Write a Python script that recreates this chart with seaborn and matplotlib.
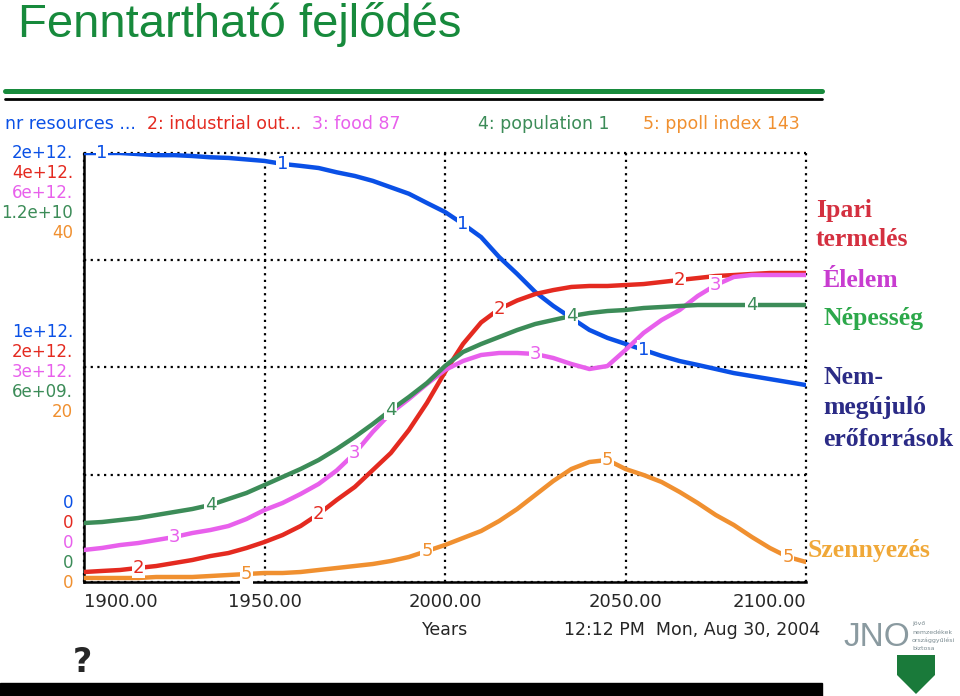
import numpy as np
import pandas as pd
import seaborn as sns
import matplotlib.pyplot as plt
from matplotlib.patches import Polygon

# years sampled every 5 years
years = list(range(1900, 2101, 5))

# 1: nr resources (units 1e12, scale max 2e12)
resources = [2.0, 2.0, 2.0, 1.995, 1.99, 1.99, 1.986, 1.98, 1.977, 1.97,
             1.963, 1.949, 1.94, 1.93, 1.91, 1.893, 1.87, 1.84, 1.81, 1.767,
             1.725, 1.669, 1.608, 1.515, 1.436, 1.352, 1.287, 1.231, 1.175, 1.138,
             1.11, 1.082, 1.054, 1.03, 1.012, 0.993, 0.974, 0.96, 0.946, 0.932, 0.918]
# 2: industrial output (units 1e12, scale max 4e12)
industrial = [0.093, 0.103, 0.112, 0.131, 0.149, 0.177, 0.205, 0.242, 0.27, 0.317,
              0.373, 0.438, 0.522, 0.634, 0.765, 0.886, 1.044, 1.203, 1.417, 1.67,
              1.958, 2.22, 2.42, 2.545, 2.625, 2.685, 2.722, 2.751, 2.76, 2.76,
              2.769, 2.778, 2.797, 2.816, 2.834, 2.853, 2.862, 2.872, 2.881, 2.881, 2.881]
# 3: food (units 1e12, scale max 6e12)
food = [0.448, 0.476, 0.517, 0.545, 0.587, 0.629, 0.685, 0.727, 0.783, 0.881,
        1.007, 1.105, 1.231, 1.371, 1.56, 1.8, 2.1, 2.364, 2.56, 2.77,
        2.965, 3.091, 3.175, 3.203, 3.203, 3.189, 3.133, 3.049, 2.979, 3.021,
        3.245, 3.483, 3.664, 3.804, 4.0, 4.154, 4.266, 4.294, 4.294, 4.294, 4.294]
# 4: population (units 1e9, scale max 1.2e10)
population = [1.65, 1.678, 1.734, 1.79, 1.874, 1.958, 2.042, 2.154, 2.322, 2.49,
              2.713, 2.937, 3.161, 3.413, 3.72, 4.056, 4.42, 4.811, 5.175, 5.566,
              6.042, 6.434, 6.657, 6.853, 7.049, 7.217, 7.329, 7.441, 7.524, 7.58,
              7.608, 7.664, 7.692, 7.72, 7.748, 7.748, 7.748, 7.748, 7.748, 7.748, 7.748]
# 5: persistent pollution index (scale max 40)
pollution = [0.373, 0.373, 0.373, 0.373, 0.466, 0.466, 0.466, 0.559, 0.653, 0.746,
             0.839, 0.839, 0.932, 1.119, 1.305, 1.492, 1.678, 1.958, 2.331, 2.89,
             3.45, 4.103, 4.755, 5.688, 6.807, 8.112, 9.417, 10.536, 11.189, 11.375,
             10.536, 9.977, 9.324, 8.392, 7.366, 6.247, 5.315, 4.196, 3.17, 2.331, 1.865]

series_names = ["1", "2", "3", "4", "5"]
series_vals = [resources, industrial, food, population, pollution]
scale_max = [2.0, 4.0, 6.0, 12.0, 40.0]
colors = ["#0a50e6", "#e42a20", "#e860ec", "#3c8c58", "#f09030"]

top_labels = ["2e+12.", "4e+12.", "6e+12.", "1.2e+10", "40"]
mid_labels = ["1e+12.", "2e+12.", "3e+12.", "6e+09.", "20"]
bot_labels = ["0", "0", "0", "0", "0"]
xticks = [1900, 1950, 2000, 2050, 2100]

header = [("nr resources ...", 5), ("2: industrial out...", 147), ("3: food 87", 312),
          ("4: population 1", 478), ("5: ppoll index 143", 643)]

rows = []
for name, vals, m in zip(series_names, series_vals, scale_max):
    for yr, v in zip(years, vals):
        rows.append({"year": yr, "series": name, "value": v / m})
df = pd.DataFrame(rows)

sns.set_style("white")
plt.rcParams['font.family'] = ['DejaVu Sans']

W, H = 960, 696
fig = plt.figure(figsize=(W / 100, H / 100), dpi=100)


def fx(x):
    return x / W


def fy(y):
    return 1 - y / H


ax = fig.add_axes([fx(84), fy(582), (806 - 84) / W, (582 - 153) / H])
sns.lineplot(data=df, x="year", y="value", hue="series",
             palette=dict(zip(series_names, colors)), linewidth=3.2,
             legend=False, ax=ax, zorder=3)
ax.set_xlim(1900, 2100)
ax.set_ylim(0, 1)
ax.set_xlabel("")
ax.set_ylabel("")
ax.set_xticks(xticks)
ax.set_xticklabels([f"{x}.00" for x in xticks], fontsize=13)
tl = ax.get_xticklabels()
tl[0].set_horizontalalignment("left")
tl[0].set_x(1898.3)
tl[-1].set_horizontalalignment("right")
ax.set_yticks([0, 0.25, 0.5, 0.75, 1.0])
ax.set_yticklabels([])
ax.tick_params(axis="both", direction="out", length=5, width=1.5, color="black")
ax.tick_params(axis="x", pad=3)
for s in ["top", "right"]:
    ax.spines[s].set_visible(False)
for s in ["left", "bottom"]:
    ax.spines[s].set_color("black")
    ax.spines[s].set_linewidth(1.8)
ax.grid(True, linestyle=(0, (1, 2)), color="black", linewidth=1.6)
for gl in ax.get_xgridlines() + ax.get_ygridlines():
    gl.set_clip_on(False)

# numbered markers along each curve
for i, (name, vals, m, c) in enumerate(zip(series_names, series_vals, scale_max, colors)):
    for k in range(4):
        yr = 1905 + 10 * i + 50 * k
        yv = np.interp(yr, years, np.array(vals) / m)
        ax.text(yr, yv, name, color=c, fontsize=13, ha="center", va="center", zorder=4,
                bbox=dict(facecolor="white", edgecolor="none", pad=0.5))

# coloured scale labels on the left
for j, (t, mm, b) in enumerate(zip(top_labels, mid_labels, bot_labels)):
    fig.text(fx(73), fy(153 + 20 * j), t, color=colors[j], fontsize=12, ha="right", va="center")
    fig.text(fx(73), fy(332 + 20 * j), mm, color=colors[j], fontsize=12, ha="right", va="center")
    fig.text(fx(73), fy(503 + 20 * j), b, color=colors[j], fontsize=12, ha="right", va="center")

# header line
for (t, x), c in zip(header, colors):
    fig.text(fx(x), fy(124), t, color=c, fontsize=12.5, ha="left", va="center")

fig.text(fx(445), fy(630), "Years", fontsize=12.5, ha="center", va="center")
fig.text(fx(820), fy(630), "12:12 PM  Mon, Aug 30, 2004", fontsize=12.5, ha="right", va="center")
fig.text(fx(82), fy(663), "?", fontsize=24, fontweight="bold", ha="center", va="center")

# title and rules
fig.text(fx(18), fy(37), "Fenntartható fejlődés", color="#178a3c", fontsize=34,
         family="Liberation Sans", ha="left", va="baseline")
fig.add_artist(plt.Line2D([fx(5), fx(822)], [fy(90.5), fy(90.5)], color="#178a3c", linewidth=3.6))
fig.add_artist(plt.Line2D([fx(5), fx(822)], [fy(99), fy(99)], color="black", linewidth=2))
fig.add_artist(plt.Rectangle((0, 0), fx(822), 13 / H, color="black", transform=fig.transFigure))

# right-hand labels
serif = dict(family="Liberation Serif", fontweight="bold", fontsize=18.5, ha="left", va="center")
fig.text(fx(816), fy(210), "Ipari", color="#d43040", **serif)
fig.text(fx(816), fy(240), "termelés", color="#d43040", **serif)
fig.text(fx(823), fy(280), "Élelem", color="#c83cd0", **serif)
fig.text(fx(823), fy(318), "Népesség", color="#2ca84a", **serif)
fig.text(fx(823), fy(377), "Nem-", color="#2b2b86", **serif)
fig.text(fx(823), fy(408), "megújuló", color="#2b2b86", **serif)
fig.text(fx(823), fy(440), "erőforrások", color="#2b2b86", **serif)
fig.text(fx(808), fy(550), "Szennyezés", color="#f0a838", **serif)

# logo
fig.text(fx(843), fy(637), "JNO", color="#8a9aa0", fontsize=24, family="Liberation Sans",
         ha="left", va="center")
for j, t in enumerate(["jövő", "nemzedékek", "országgyűlési", "biztosa"]):
    fig.text(fx(912), fy(624 + 8 * j), t, color="#7a8a90", fontsize=4.5, ha="left", va="center")
shield = Polygon([(fx(897), fy(655)), (fx(935), fy(655)), (fx(935), fy(675)),
                  (fx(916), fy(694)), (fx(897), fy(675))], closed=True,
                 facecolor="#1a7a3a", edgecolor="none", transform=fig.transFigure)
fig.add_artist(shield)

fig.savefig("out.png", dpi=100)
